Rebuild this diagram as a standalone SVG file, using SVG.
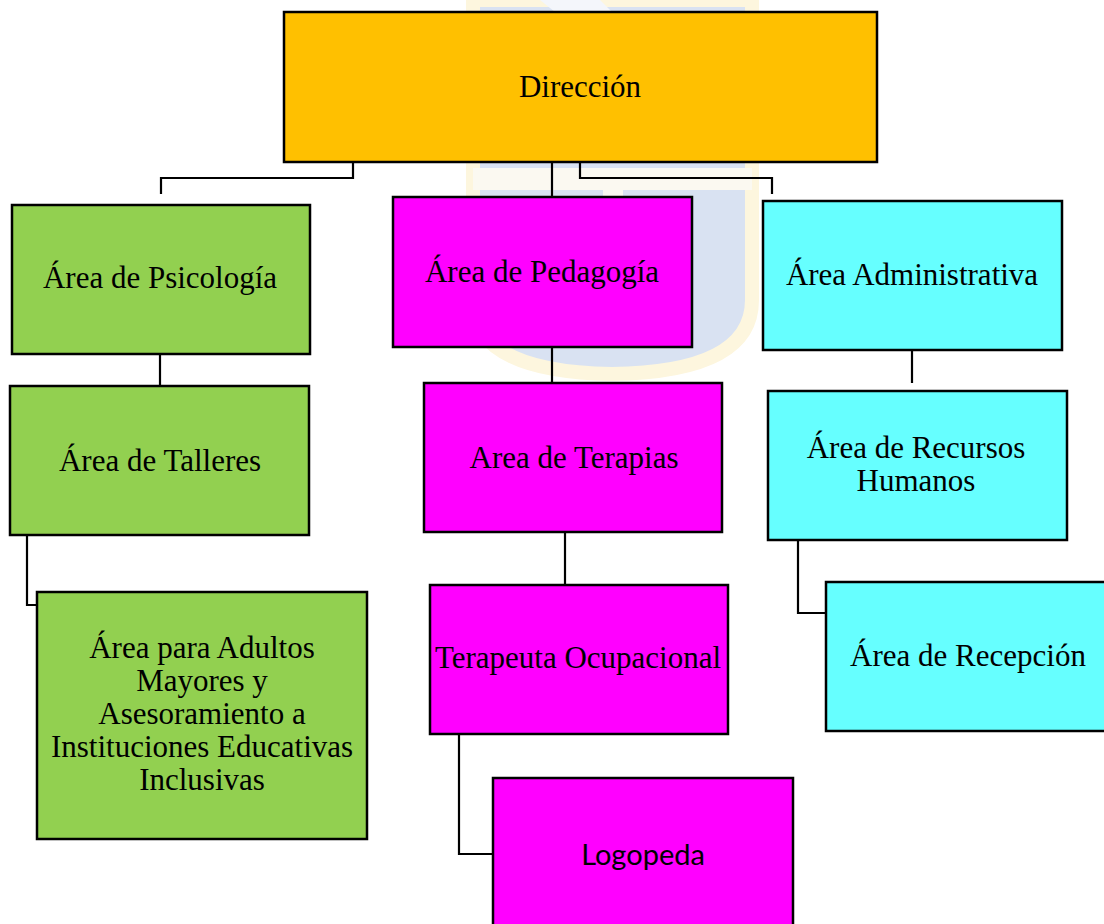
<svg xmlns="http://www.w3.org/2000/svg" width="1104" height="924" viewBox="0 0 1104 924">
<style>
.box{stroke:#000;stroke-width:2.5}
.t{font-family:"Liberation Serif","Times New Roman",serif;font-size:31px;fill:#000;text-anchor:middle}
.ts{font-family:Lato,"Liberation Sans",sans-serif;font-size:29px;fill:#000;text-anchor:middle}
#connectors path{fill:none;stroke:#000;stroke-width:2.2}
</style>
<rect width="1104" height="924" fill="#fff"/>
<g id="watermark">
<path d="M473,0 L752,0 L752,300 Q752,372 612,374 Q473,372 473,300 Z" fill="#d9e2f2" stroke="#fdf6de" stroke-width="14"/>
<rect x="473" y="168" width="279" height="22" fill="#fbf9f1"/>
<rect x="603" y="190" width="20" height="150" fill="#fbf9f1"/>
<path d="M540,0 L600,0 L640,40 L590,40 Z" fill="#f4f6fb"/>
</g>
<g id="connectors">
<path d="M353,162 V178 H161 V194"/>
<path d="M552,162 V197"/>
<path d="M580,162 V178 H772 V194"/>
<path d="M160,354 V386"/>
<path d="M552,347 V383"/>
<path d="M912,350 V383"/>
<path d="M27,535 V605 H37"/>
<path d="M565,532 V585"/>
<path d="M798,540 V613 H826"/>
<path d="M459,734 V854 H493"/>
</g>
<g id="n-direccion"><rect class="box" x="284" y="12" width="593" height="150" fill="#FFC000"/><text class="t" x="580" y="97">Dirección</text></g>
<g id="n-psicologia"><rect class="box" x="12" y="205" width="298" height="149" fill="#92D050"/><text class="t" x="160" y="288">Área de Psicología</text></g>
<g id="n-pedagogia"><rect class="box" x="393" y="197" width="299" height="150" fill="#FF00FF"/><text class="t" x="542" y="282">Área de Pedagogía</text></g>
<g id="n-administrativa"><rect class="box" x="763" y="201" width="299" height="149" fill="#66FFFF"/><text class="t" x="912" y="285">Área Administrativa</text></g>
<g id="n-talleres"><rect class="box" x="10" y="386" width="299" height="149" fill="#92D050"/><text class="t" x="160" y="471">Área de Talleres</text></g>
<g id="n-terapias"><rect class="box" x="424" y="383" width="298" height="149" fill="#FF00FF"/><text class="t" x="574" y="468">Area de Terapias</text></g>
<g id="n-rrhh"><rect class="box" x="768" y="391" width="299" height="149" fill="#66FFFF"/><text class="t" x="916" y="458">Área de Recursos</text><text class="t" x="916" y="491">Humanos</text></g>
<g id="n-adultos"><rect class="box" x="37" y="592" width="330" height="247" fill="#92D050"/>
<text class="t" x="202" y="658">Área para Adultos</text>
<text class="t" x="202" y="691">Mayores y</text>
<text class="t" x="202" y="724">Asesoramiento a</text>
<text class="t" x="202" y="757">Instituciones Educativas</text>
<text class="t" x="202" y="790">Inclusivas</text></g>
<g id="n-terapeuta"><rect class="box" x="430" y="585" width="298" height="149" fill="#FF00FF"/><text class="t" x="578" y="668">Terapeuta Ocupacional</text></g>
<g id="n-recepcion"><rect class="box" x="826" y="582" width="298" height="149" fill="#66FFFF"/><text class="t" x="968" y="666">Área de Recepción</text></g>
<g id="n-logopeda"><rect class="box" x="493" y="778" width="300" height="160" fill="#FF00FF"/><text class="ts" x="643" y="865">Logopeda</text></g>
</svg>
